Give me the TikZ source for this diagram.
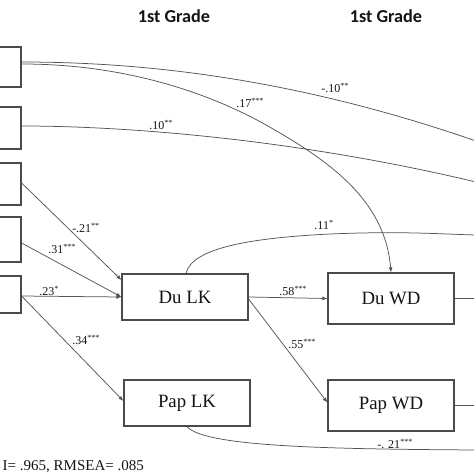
\documentclass[tikz,border=0pt]{standalone}
\usepackage{fontspec}
\setmainfont{Liberation Serif}
\newfontfamily\gradefont{Carlito}
\usetikzlibrary{arrows.meta}
\definecolor{boxgray}{HTML}{4A4A4A}
\definecolor{linegray}{HTML}{555555}
\definecolor{txt}{HTML}{141414}
\begin{document}
\begin{tikzpicture}[x=1pt,y=-1pt,
  box/.style={draw=boxgray, line width=1.2pt, minimum width=126pt, inner sep=0pt, text=txt,
    font=\fontsize{18.8}{20}\selectfont},
  lbox/.style={draw=boxgray, line width=1.2pt, minimum width=41pt, inner sep=0pt},
  conn/.style={draw=linegray, line width=0.75pt},
  arr/.style={conn, -{Latex[length=5pt,width=4pt]}},
  coef/.style={inner sep=0pt, text=txt, font=\fontsize{12}{13}\selectfont},
  grade/.style={inner sep=0pt, text=txt, font=\gradefont\bfseries\fontsize{18.2}{20}\selectfont}]
\useasboundingbox (0,0) rectangle (474,474);

% titles
\node[grade] (g1) at (174,16) {1st Grade};
\node[grade] (g2) at (386,16) {1st Grade};

% left (cut) boxes
\node[lbox, minimum height=40pt] (b1) at (0.5,67) {};
\node[lbox, minimum height=42pt] (b2) at (0.5,128) {};
\node[lbox, minimum height=42pt] (b3) at (0.5,184) {};
\node[lbox, minimum height=45pt] (b4) at (0.5,239.5) {};
\node[lbox, minimum height=37pt] (b5) at (0.5,294.5) {};

% main boxes
\node[box, minimum height=46pt] (dulk) at (185,297) {Du LK};
\node[box, minimum height=46pt] (paplk) at (187,403) {Pap LK};
\node[box, minimum height=51pt] (duwd) at (391,298.5) {Du WD};
\node[box, minimum height=51pt] (papwd) at (391,405.5) {Pap WD};

% free ends at right edge
\coordinate (e1) at (476,141);
\coordinate (e2) at (476,182);
\coordinate (e3) at (476,235);
\coordinate (e4) at (476,298.5);
\coordinate (e5) at (476,405.5);
\coordinate (e6) at (476,450);

% long curves from the left
\draw[conn] ([yshift=5pt]b1.east) .. controls (150,62) and (300,80) .. (e1);
\draw[arr] ([yshift=3pt]b1.east) .. controls (120,64) and (200,90) .. (257,120)
   .. controls (330,160) and (385,200) .. (duwd.north);
\draw[conn] ([yshift=2pt]b2.east) .. controls (130,126) and (300,140) .. (e2);

% arrows into LK boxes
\draw[arr] ([yshift=1pt]b3.east) -- ([yshift=17pt]dulk.west);
\draw[arr] ([yshift=-3.5pt]b4.east) -- (dulk.west);
\draw[arr] ([yshift=-1.5pt]b5.east) -- (dulk.west);
\draw[arr] ([yshift=-1.5pt]b5.east) -- ([yshift=2pt]paplk.west);

% LK -> WD
\draw[arr] (dulk.east) -- (duwd.west);
\draw[arr] ([yshift=-2pt]dulk.east) -- ([yshift=3pt]papwd.west);

% WD lines to the right
\draw[conn] (duwd.east) -- (e4);
\draw[conn] (papwd.east) -- (e5);

% curves from LK boxes
\draw[conn] ([xshift=1pt]dulk.north) .. controls (192,248) and (250,238) .. (330,234)
   .. controls (400,231) and (440,234) .. (e3);
\draw[conn] (paplk.south) .. controls (205,447) and (330,449) .. (e6);

% coefficients
\node[coef] (c1) at (335,88) {-.10\textsuperscript{**}};
\node[coef] (c2) at (250,103) {.17\textsuperscript{***}};
\node[coef] (c3) at (161,125) {.10\textsuperscript{**}};
\node[coef] (c4) at (324,225) {.11\textsuperscript{*}};
\node[coef] (c5) at (86,228) {-.21\textsuperscript{**}};
\node[coef] (c6) at (62,249) {.31\textsuperscript{***}};
\node[coef] (c7) at (49,291) {.23\textsuperscript{*}};
\node[coef] (c8) at (86,340) {.34\textsuperscript{***}};
\node[coef] (c9) at (293,291) {.58\textsuperscript{***}};
\node[coef] (c10) at (302,344) {.55\textsuperscript{***}};
\node[coef] (c11) at (395,444) {-. 21\textsuperscript{***}};

% fit line
\node[anchor=base east, inner sep=0pt, text=txt, font=\fontsize{15}{16}\selectfont] (fit) at (144,470) {I= .965, RMSEA= .085};
\end{tikzpicture}
\end{document}
